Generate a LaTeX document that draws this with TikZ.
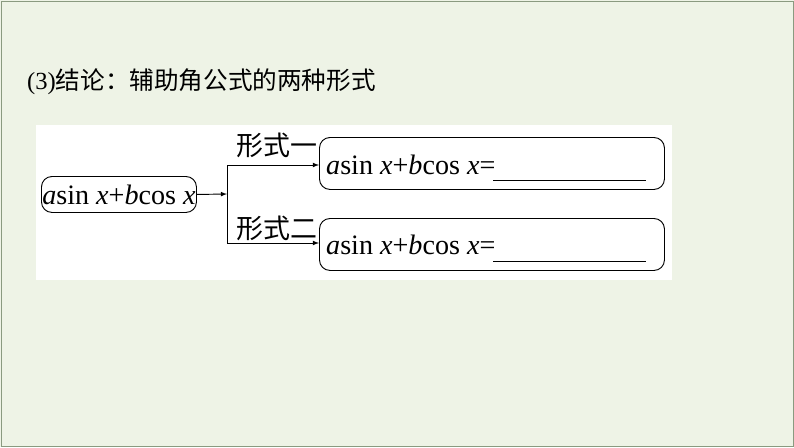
\documentclass[tikz,border=0pt]{standalone}
\usepackage{fontspec}
\setmainfont{Liberation Serif}
\newfontfamily\cjk{Noto Sans CJK SC}
\usetikzlibrary{positioning}
\tikzset{>=latex}
\definecolor{bgpage}{HTML}{EEF3E6}
\definecolor{frame}{HTML}{8A9A80}
\newcommand{\asinx}{\textit{a}sin \textit{x}+\textit{b}cos \textit{x}}
\tikzset{rbox/.style={draw,thick,rounded corners=9pt,inner sep=0pt,anchor=north west},
  formula/.style={font=\fontsize{24}{28}\selectfont,inner sep=0pt}}
\begin{document}
\begin{tikzpicture}[x=0.03cm,y=-0.03cm]

%%% page
\fill[bgpage] (0,0) rectangle (794,447);
\draw[frame,thick] (1,1) rectangle (793,446);
\useasboundingbox (0,0) rectangle (794,447);

\node[anchor=west,inner sep=0pt,font=\fontsize{21}{24}\selectfont] (title) at (27,82) {(3){\cjk 结论：辅助角公式的两种形式}};

%%% diagram
\fill[white] (36,125) rectangle (672,280);

\node[rbox,minimum width=155*0.03cm,minimum height=36*0.03cm] (src) at (41,176) {};
\node[formula] (srct) at (src.center) {\asinx};

\node[rbox,minimum width=345*0.03cm,minimum height=52*0.03cm] (f1) at (319,137) {};
\node[rbox,minimum width=345*0.03cm,minimum height=52*0.03cm] (f2) at (319,218) {};
\node[formula,anchor=west] (f1t) at (326,165) {\asinx=};
\node[formula,anchor=west] (f2t) at (326,245) {\asinx=};
\coordinate (u1a) at (493,180); \coordinate (u1b) at (646,180);
\coordinate (u2a) at (493,261); \coordinate (u2b) at (646,261);
\draw[thick] (u1a) -- (u1b);
\draw[thick] (u2a) -- (u2b);

\coordinate (fork) at (227,194);
\coordinate (top) at (227,165);
\coordinate (bot) at (227,243);
\draw[->,thick] (src.east) -- (fork);
\draw[thick] (top) -- (bot);
\draw[->,thick] (top) -- (top -| f1.west);
\draw[->,thick] (bot) -- (bot -| f2.west);

\node[anchor=west,inner sep=0pt,font=\fontsize{23}{26}\cjk] (l1) at (236,145) {形式一};
\node[anchor=west,inner sep=0pt,font=\fontsize{23}{26}\cjk] (l2) at (236,228) {形式二};

\end{tikzpicture}
\end{document}
